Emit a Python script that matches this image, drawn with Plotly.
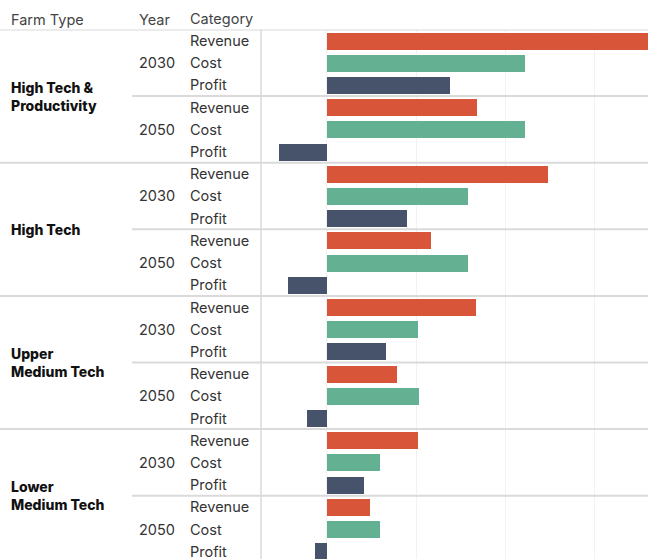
import plotly.graph_objects as go

# Row structure of the table
farm_types = ["High Tech &<br>Productivity", "High Tech", "Upper<br>Medium Tech", "Lower<br>Medium Tech"]
years = ["2030", "2050"]
categories = ["Revenue", "Cost", "Profit"]

# Values per farm type -> year -> [Revenue, Cost, Profit]
revenue = [[385, 168], [248, 117], [167, 79], [102, 48]]
cost = [[222, 222], [158, 158], [102, 103], [60, 60]]
profit = [[138, -53], [90, -43], [66, -22], [42, -13]]

colors = {"Revenue": "#D9553A", "Cost": "#63B092", "Profit": "#46536A"}

W, H = 648, 559
top_px = 29.5          # header rule
row_h = 22.2           # height of one table row
pane_left_px = 261
zero_px = 326.7
unit_px = 0.893        # pixels per value unit

y_bottom = (H - top_px) / row_h - 0.5
x_min = (pane_left_px - zero_px) / unit_px
x_max = (W - zero_px) / unit_px

fig = go.Figure()

series = {"Revenue": revenue, "Cost": cost, "Profit": profit}
for ci, cat in enumerate(categories):
    ys, xs = [], []
    for fi in range(len(farm_types)):
        for yi in range(len(years)):
            ys.append(fi * 6 + yi * 3 + ci)
            xs.append(series[cat][fi][yi])
    fig.add_trace(go.Bar(
        x=xs, y=ys, orientation="h", width=0.77,
        marker=dict(color=colors[cat], line=dict(width=0)),
        name=cat, showlegend=False, hoverinfo="x",
    ))

font_family = "Inter, Open Sans, sans-serif"
fs = 14.5
pad = 2  # annotation box padding offset
annotations = []
# column headers
for label, px in [("Farm Type", 11), ("Year", 139), ("Category", 190)]:
    annotations.append(dict(
        text=label, x=(px - pad) / W, y=1 - 19 / H, xref="paper", yref="paper",
        xanchor="left", yanchor="middle", showarrow=False,
        font=dict(family=font_family, size=fs, color="#444"),
    ))

for fi, ft in enumerate(farm_types):
    annotations.append(dict(
        text=ft, x=(11 - pad) / W, y=fi * 6 + 2.5, xref="paper", yref="y",
        xanchor="left", yanchor="middle", align="left", showarrow=False,
        font=dict(family=font_family, size=14, color="#111", weight=800),
    ))
    for yi, yr in enumerate(years):
        annotations.append(dict(
            text=yr, x=(139 - pad) / W, y=fi * 6 + yi * 3 + 1, xref="paper", yref="y",
            xanchor="left", yanchor="middle", showarrow=False,
            font=dict(family=font_family, size=fs, color="#333"),
        ))
        for ci, cat in enumerate(categories):
            annotations.append(dict(
                text=cat, x=(190 - pad) / W, y=fi * 6 + yi * 3 + ci, xref="paper", yref="y",
                xanchor="left", yanchor="middle", showarrow=False,
                font=dict(family=font_family, size=fs, color="#333"),
            ))

shapes = []
line_style = dict(color="#DADADA", width=2)
# header rule
shapes.append(dict(type="line", xref="paper", yref="y", x0=0, x1=1,
                   y0=-0.5, y1=-0.5, line=line_style, layer="above"))
for fi in range(len(farm_types)):
    if fi > 0:
        shapes.append(dict(type="line", xref="paper", yref="y", x0=0, x1=1,
                           y0=fi * 6 - 0.5, y1=fi * 6 - 0.5, line=line_style, layer="above"))
    shapes.append(dict(type="line", xref="paper", yref="y", x0=132 / W, x1=1,
                       y0=fi * 6 + 2.5, y1=fi * 6 + 2.5, line=line_style, layer="above"))
# pane border
shapes.append(dict(type="line", xref="paper", yref="y", x0=pane_left_px / W, x1=pane_left_px / W,
                   y0=-0.5, y1=y_bottom, line=dict(color="#DADADA", width=1.5)))

fig.update_layout(
    width=W, height=H,
    margin=dict(l=0, r=0, t=0, b=0),
    paper_bgcolor="white", plot_bgcolor="white",
    bargap=0,
    xaxis=dict(domain=[pane_left_px / W, 1], range=[x_min, x_max],
               showgrid=True, gridcolor="#F2F2F2", gridwidth=1,
               tick0=0, dtick=100, zeroline=False,
               showticklabels=False, ticks="", fixedrange=True),
    yaxis=dict(domain=[0, 1 - top_px / H], range=[y_bottom, -0.5],
               showgrid=False, zeroline=False, showticklabels=False,
               ticks="", fixedrange=True),
    annotations=annotations,
    shapes=shapes,
)

fig.write_html("out.html")
